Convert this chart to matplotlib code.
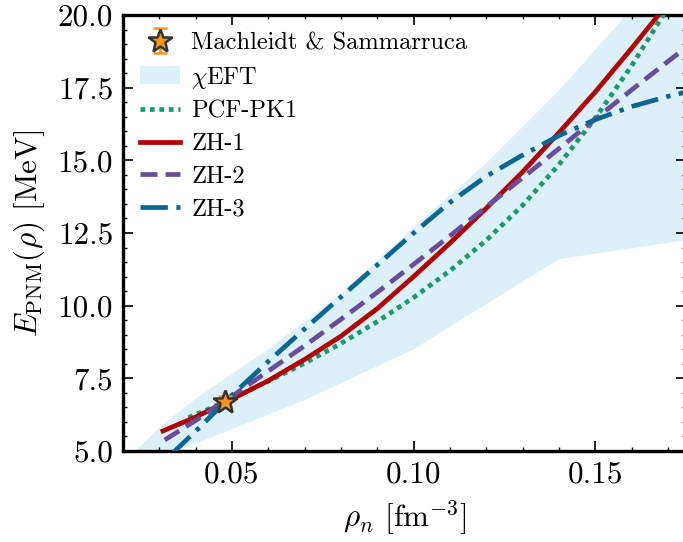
import numpy as np
import matplotlib
matplotlib.use("Agg")
import matplotlib.pyplot as plt

plt.rcParams["font.family"] = "serif"
plt.rcParams["font.serif"] = ["cmr10"]
plt.rcParams["mathtext.fontset"] = "cm"
plt.rcParams["axes.formatter.use_mathtext"] = True

# chiEFT band (upper / lower edges)
band_x_up = [0.020, 0.030, 0.040, 0.060, 0.080, 0.100, 0.120, 0.140, 0.160, 0.180]
band_y_up = [4.6, 5.8, 6.8, 8.5, 10.4, 12.7, 14.9, 17.4, 20.2, 22.6]
band_x_lo = [0.020, 0.035, 0.070, 0.100, 0.140, 0.180]
band_y_lo = [3.9, 5.0, 6.75, 8.5, 11.6, 12.35]

# Machleidt & Sammarruca point
ms_x = [0.048]
ms_y = [6.70]
ms_err = [0.2]

# PCF-PK1
pk1_x = [0.038, 0.040, 0.050, 0.060, 0.070, 0.080, 0.090, 0.100, 0.110, 0.120,
         0.130, 0.140, 0.150, 0.160, 0.170, 0.172]
pk1_y = [6.15, 6.25, 6.80, 7.40, 8.02, 8.70, 9.45, 10.28, 11.20, 12.25,
         13.45, 14.85, 16.45, 18.25, 20.25, 20.7]

# ZH-1
zh1_x = [0.031, 0.040, 0.048, 0.060, 0.070, 0.080, 0.090, 0.100, 0.110, 0.120,
         0.130, 0.140, 0.150, 0.160, 0.170]
zh1_y = [5.69, 6.17, 6.66, 7.42, 8.15, 8.95, 9.90, 11.00, 12.15, 13.35,
         14.60, 15.95, 17.35, 18.85, 20.40]

# ZH-2
zh2_x = [0.0315, 0.040, 0.050, 0.060, 0.070, 0.080, 0.090, 0.100, 0.110, 0.120,
         0.130, 0.140, 0.150, 0.160, 0.170, 0.175]
zh2_y = [5.38, 6.05, 6.88, 7.75, 8.62, 9.53, 10.46, 11.42, 12.40, 13.40,
         14.40, 15.40, 16.42, 17.42, 18.40, 18.88]

# ZH-3
zh3_x = [0.033, 0.040, 0.050, 0.060, 0.070, 0.080, 0.090, 0.100, 0.110, 0.120,
         0.130, 0.140, 0.150, 0.160, 0.170, 0.175]
zh3_y = [4.85, 5.68, 6.92, 8.08, 9.20, 10.30, 11.40, 12.50, 13.55, 14.45,
         15.18, 15.85, 16.40, 16.85, 17.20, 17.35]

fig = plt.figure(figsize=(3.415, 2.71), dpi=200)
ax = fig.add_axes([0.1801, 0.1679, 0.8243, 0.8044])

# band: common x grid from both edge lists
bx = np.union1d(band_x_up, band_x_lo)
ax.fill_between(bx, np.interp(bx, band_x_lo, band_y_lo), np.interp(bx, band_x_up, band_y_up),
                color="#dcf0fa", lw=0, label=r"$\chi$EFT", zorder=1)

lw = 1.7
ax.plot(pk1_x, pk1_y, color="#1a9a6a", lw=lw, ls=(0, (1, 1.0)), label="PCF-PK1", zorder=3)
ax.plot(zh1_x, zh1_y, color="#b00000", lw=lw, ls="-", label="ZH-1", zorder=3)
ax.plot(zh2_x, zh2_y, color="#6a4c9c", lw=lw, ls=(0, (3.6, 1.7)), label="ZH-2", zorder=3)
ax.plot(zh3_x, zh3_y, color="#0a6791", lw=lw, ls=(0, (5.8, 1.8, 0.9, 1.8)), label="ZH-3", zorder=3)

eb = ax.errorbar(ms_x, ms_y, yerr=ms_err, fmt="*", ms=9, mfc="#f7931e", mec="#333333",
                 mew=0.9, ecolor="#f7931e", elinewidth=1.0, capsize=2.5,
                 label="Machleidt & Sammarruca", zorder=5)

handles, labels = ax.get_legend_handles_labels()
order = ["Machleidt & Sammarruca", r"$\chi$EFT", "PCF-PK1", "ZH-1", "ZH-2", "ZH-3"]
hmap = dict(zip(labels, handles))
ax.legend([hmap[k] for k in order], order, loc="upper left", frameon=False,
          fontsize=8.8, handlelength=1.65, handletextpad=0.45, labelspacing=0.42,
          borderaxespad=0.3, borderpad=0.4)

ax.set_xlim(0.02, 0.175)
ax.set_ylim(5.0, 20.0)
ax.set_xticks([0.05, 0.10, 0.15])
ax.set_xticklabels(["0.05", "0.10", "0.15"])
ax.set_yticks([5.0, 7.5, 10.0, 12.5, 15.0, 17.5, 20.0])
ax.set_yticklabels(["5.0", "7.5", "10.0", "12.5", "15.0", "17.5", "20.0"])
ax.set_xticks(np.arange(0.02, 0.18, 0.01), minor=True)
ax.set_yticks(np.arange(5.0, 20.01, 0.5), minor=True)
ax.tick_params(which="both", direction="in", top=True, right=True, labelsize=11.2)
ax.tick_params(which="major", length=3.6, width=0.6)
ax.tick_params(which="minor", length=1.6, width=0.5)
for s in ax.spines.values():
    s.set_linewidth(1.2)

ax.set_xlabel(r"$\rho_n$ [fm$^{-3}$]", fontsize=11.2)
ax.set_ylabel(r"$E_{\mathrm{PNM}}(\rho)$ [MeV]", fontsize=11.2)

fig.savefig("out.png", dpi=200)
